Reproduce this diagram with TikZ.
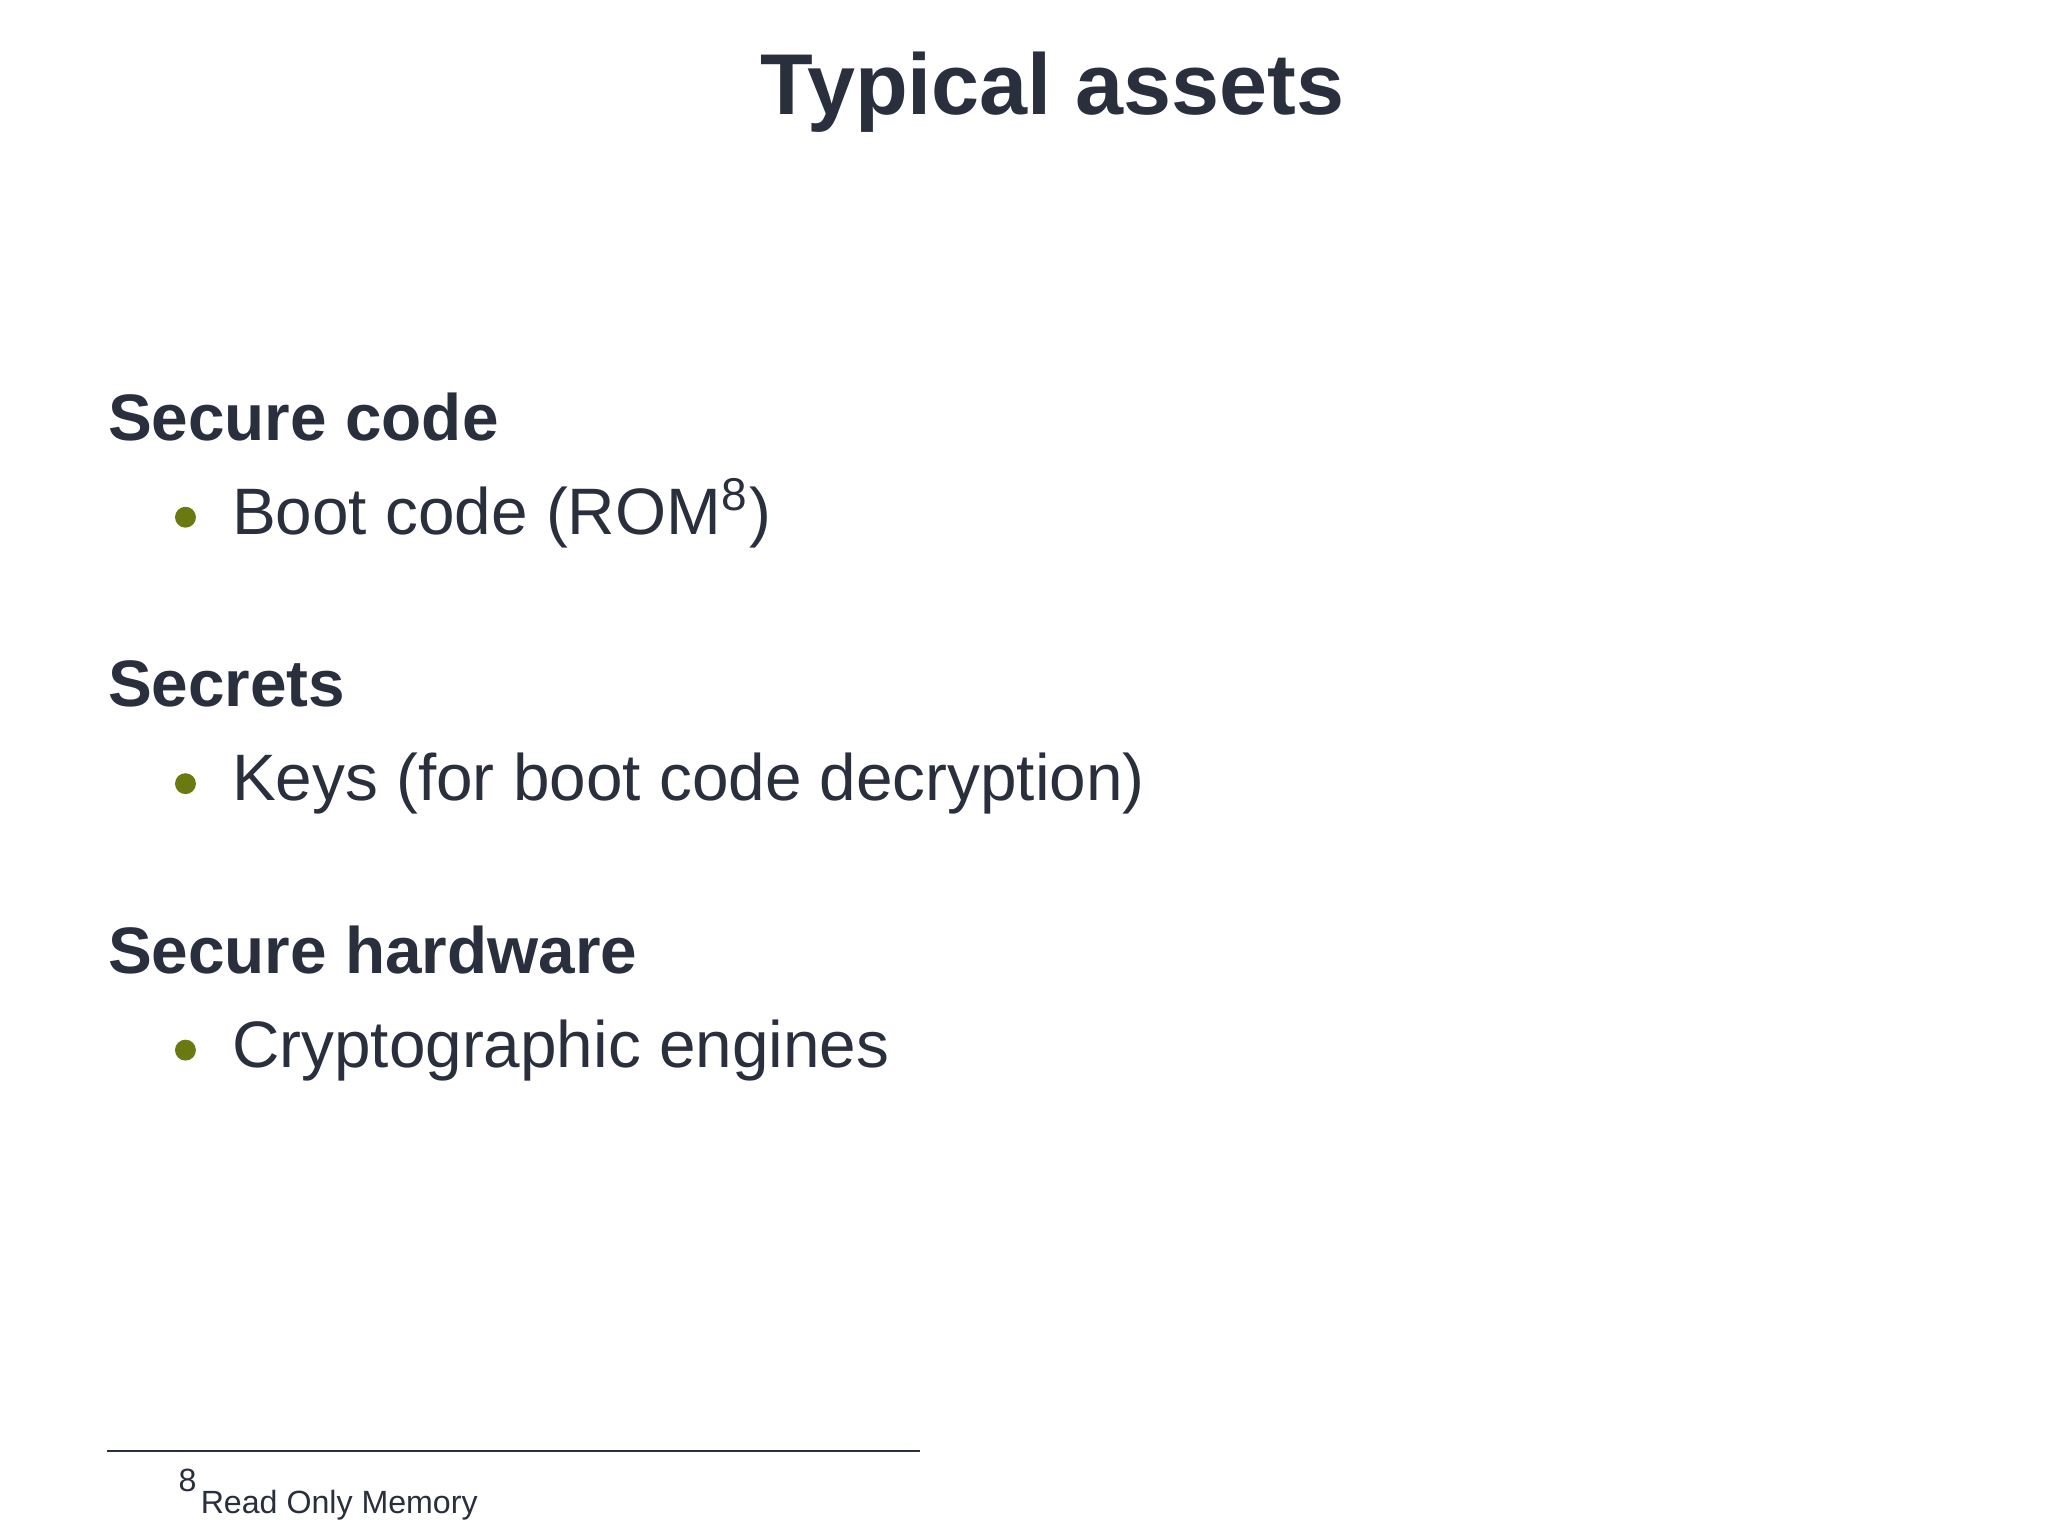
\documentclass[tikz,border=0pt]{standalone}
\usepackage{fontspec}
\setmainfont{Liberation Sans}
\definecolor{txt}{HTML}{2A2F3D}
\definecolor{bul}{HTML}{6B7A10}
\begin{document}
\begin{tikzpicture}[x=0.01cm,y=-0.01cm,
  every node/.style={inner sep=0pt,text=txt},
  head/.style={anchor=base west,font=\fontsize{14.3}{16}\selectfont\bfseries},
  item/.style={anchor=base west,font=\fontsize{14.3}{16}\selectfont},
  bull/.style={fill=bul,circle,minimum size=0.16cm}]
\useasboundingbox (0,0) rectangle (1568,1176);
\node[anchor=base,font=\fontsize{18.8}{22}\selectfont\bfseries] (title) at (806,88) {Typical assets};
\node[head] (h1) at (82,337) {Secure code};
\node[bull] (b1) at (142,396) {};
\node[item] (i1) at (177,409) {Boot code (ROM\textsuperscript{8})};
\node[head] (h2) at (82,541) {Secrets};
\node[bull] (b2) at (142,600) {};
\node[item] (i2) at (177,613) {Keys (for boot code decryption)};
\node[head] (h3) at (82,745) {Secure hardware};
\node[bull] (b3) at (142,804) {};
\node[item] (i3) at (177,817) {Cryptographic engines};
\coordinate (l1) at (82,1111);
\coordinate (l2) at (704,1111);
\draw[txt,line width=0.5pt] (l1) -- (l2);
\node[anchor=base west,font=\fontsize{7}{8}\selectfont] (fn) at (136,1142) {8};
\node[anchor=base west,font=\fontsize{7}{8}\selectfont] (ft) at (153,1159) {Read Only Memory};
\end{tikzpicture}
\end{document}
